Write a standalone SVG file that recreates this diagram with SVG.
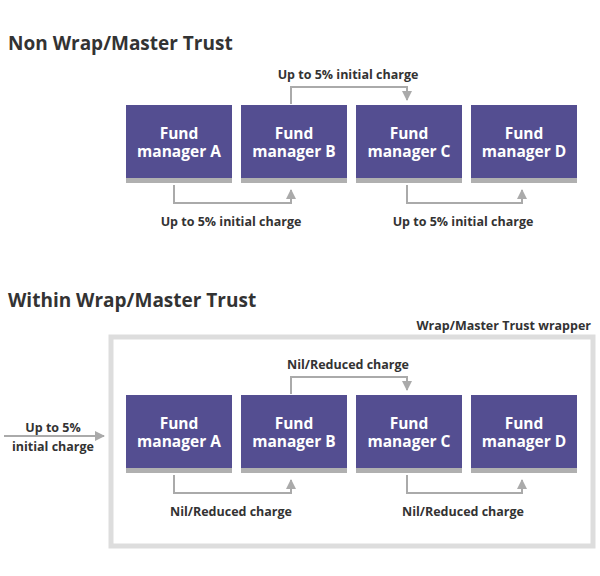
<svg xmlns="http://www.w3.org/2000/svg" width="600" height="576" viewBox="0 0 600 576">
<defs>
<style>
.t{font-family:"Open Sans","DejaVu Sans",sans-serif;font-weight:bold}
.h{font-size:19px;fill:#333}
.l{font-size:12.5px;fill:#333}
.n{font-size:15.5px;fill:#fff;text-anchor:middle}
.c{fill:none;stroke:#aaa;stroke-width:2}
.box{fill:#544e91}
.bar{fill:#b0b0b0}
</style>
<marker id="a" viewBox="0 0 10 10" refX="9" refY="5" markerWidth="5" markerHeight="5" orient="auto"><path d="M0,0L10,5L0,10z" fill="#aaa"/></marker>
</defs>
<rect width="600" height="576" fill="#fff"/>
<text class="t h" x="8" y="50">Non Wrap/Master Trust</text>
<text class="t h" x="8" y="307">Within Wrap/Master Trust</text>
<rect x="111" y="337" width="482" height="209" fill="none" stroke="#ddd" stroke-width="5"/>
<text class="t l" x="591" y="330" text-anchor="end">Wrap/Master Trust wrapper</text>
<g id="A1"><rect class="box" x="126" y="105" width="106" height="73"/><rect class="bar" x="126" y="178" width="106" height="5"/><text class="t n" x="179" y="139">Fund</text><text class="t n" x="179" y="157">manager A</text></g>
<g id="B1"><rect class="box" x="241" y="105" width="106" height="73"/><rect class="bar" x="241" y="178" width="106" height="5"/><text class="t n" x="294" y="139">Fund</text><text class="t n" x="294" y="157">manager B</text></g>
<g id="C1"><rect class="box" x="356" y="105" width="106" height="73"/><rect class="bar" x="356" y="178" width="106" height="5"/><text class="t n" x="409" y="139">Fund</text><text class="t n" x="409" y="157">manager C</text></g>
<g id="D1"><rect class="box" x="471" y="105" width="106" height="73"/><rect class="bar" x="471" y="178" width="106" height="5"/><text class="t n" x="524" y="139">Fund</text><text class="t n" x="524" y="157">manager D</text></g>
<g id="A2"><rect class="box" x="126" y="395" width="106" height="73"/><rect class="bar" x="126" y="468" width="106" height="5"/><text class="t n" x="179" y="429">Fund</text><text class="t n" x="179" y="447">manager A</text></g>
<g id="B2"><rect class="box" x="241" y="395" width="106" height="73"/><rect class="bar" x="241" y="468" width="106" height="5"/><text class="t n" x="294" y="429">Fund</text><text class="t n" x="294" y="447">manager B</text></g>
<g id="C2"><rect class="box" x="356" y="395" width="106" height="73"/><rect class="bar" x="356" y="468" width="106" height="5"/><text class="t n" x="409" y="429">Fund</text><text class="t n" x="409" y="447">manager C</text></g>
<g id="D2"><rect class="box" x="471" y="395" width="106" height="73"/><rect class="bar" x="471" y="468" width="106" height="5"/><text class="t n" x="524" y="429">Fund</text><text class="t n" x="524" y="447">manager D</text></g>
<g id="connectors">
<path class="c" d="M291,104V87H407V100" marker-end="url(#a)"/>
<path class="c" d="M174,185V203H291V190" marker-end="url(#a)"/>
<path class="c" d="M407,185V203H522V190" marker-end="url(#a)"/>
<path class="c" d="M291,394V377H407V390" marker-end="url(#a)"/>
<path class="c" d="M174,475V493H291V480" marker-end="url(#a)"/>
<path class="c" d="M407,475V493H522V480" marker-end="url(#a)"/>
<path class="c" d="M4,436H104" marker-end="url(#a)"/>
</g>
<g class="t l" text-anchor="middle">
<text x="348" y="79">Up to 5% initial charge</text>
<text x="231" y="226">Up to 5% initial charge</text>
<text x="463" y="226">Up to 5% initial charge</text>
<text x="348" y="369">Nil/Reduced charge</text>
<text x="231" y="516">Nil/Reduced charge</text>
<text x="463" y="516">Nil/Reduced charge</text>
<text x="53" y="432">Up to 5%</text>
<text x="53" y="451">initial charge</text>
</g>
</svg>
